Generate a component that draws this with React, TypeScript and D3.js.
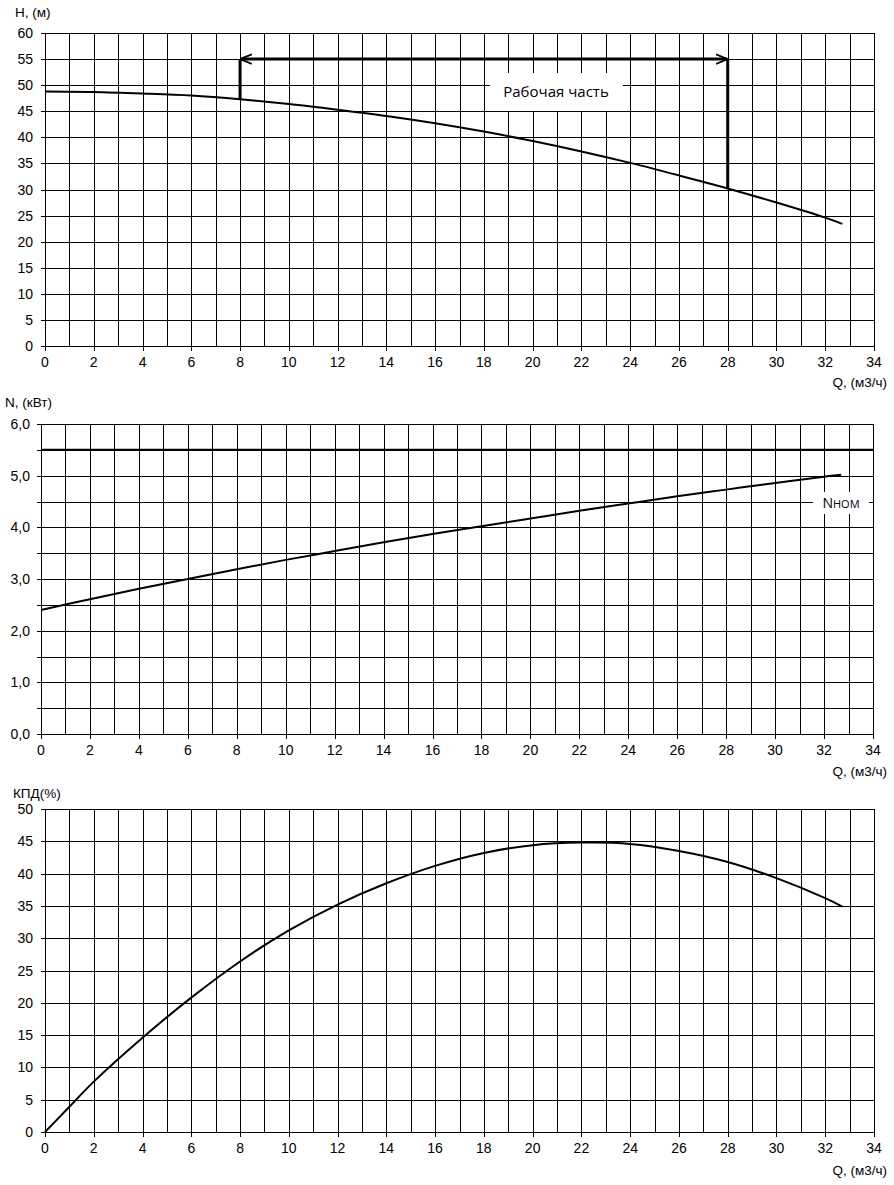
import { useEffect, useRef } from 'react';
import * as d3 from 'd3';

// расход Q, м3/ч
const flowQ = [0, 2, 4, 6, 8, 10, 12, 14, 16, 18, 20, 22, 24, 26, 28, 30, 32, 32.7];
// напор H, м
const headH = [48.8, 48.7, 48.4, 48.0, 47.3, 46.4, 45.3, 44.1, 42.7, 41.1, 39.3, 37.3, 35.1, 32.7, 30.2, 27.5, 24.6, 23.4];
// мощность N, кВт
const powerN = [2.4, 2.61, 2.81, 3.0, 3.19, 3.37, 3.54, 3.71, 3.87, 4.02, 4.17, 4.32, 4.46, 4.6, 4.73, 4.86, 4.98, 5.02];
// КПД, %
const effQ = [0, 1, 2, 4, 6, 8, 10, 12, 14, 16, 18, 20, 22, 24, 26, 28, 30, 32, 32.7];
const effK = [0, 3.9, 7.8, 14.6, 20.8, 26.4, 31.2, 35.2, 38.5, 41.2, 43.2, 44.4, 44.8, 44.6, 43.5, 41.8, 39.3, 36.2, 34.9];

const xTicks = d3.range(0, 35, 2);
const workRange = [8, 28];
const nNominal = 5.5;

export default function App() {
  const svgRef = useRef<SVGSVGElement>(null);

  useEffect(() => {
    document.body.style.margin = '0';
    const svg = d3.select(svgRef.current);
    svg.selectAll('*').remove();
    const font = 'Liberation Sans, Arial, sans-serif';

    const defs = svg.append('defs');
    defs.append('marker')
      .attr('id', 'arr')
      .attr('viewBox', '0 0 10 10')
      .attr('refX', 9).attr('refY', 5)
      .attr('markerWidth', 4).attr('markerHeight', 4)
      .attr('orient', 'auto-start-reverse')
      .append('path')
      .attr('d', 'M0,1 L10,5 L0,9')
      .attr('fill', 'none').attr('stroke', '#000').attr('stroke-width', 1.5);

    function panel(opts: {
      left: number; right: number; top: number; bottom: number;
      yMax: number; gridStep: number; labelStep: number; fmt: (v: number) => string;
      labelDx: number; yTitle: string; yTitleX: number; yTitleY: number; qTitleY: number;
    }) {
      const x = d3.scaleLinear().domain([0, 34]).range([opts.left, opts.right]);
      const y = d3.scaleLinear().domain([0, opts.yMax]).range([opts.bottom, opts.top]);
      const g = svg.append('g');

      // сетка
      g.selectAll('.vg').data(d3.range(0, 35, 1)).enter().append('line')
        .attr('x1', d => Math.round(x(d)) + 0.5).attr('x2', d => Math.round(x(d)) + 0.5)
        .attr('y1', opts.top).attr('y2', opts.bottom)
        .attr('stroke', '#000').attr('stroke-width', 1);
      const hVals = d3.range(0, opts.yMax + 1e-9, opts.gridStep);
      g.selectAll('.hg').data(hVals).enter().append('line')
        .attr('x1', opts.left - 4).attr('x2', opts.right)
        .attr('y1', d => Math.round(y(d)) + 0.5).attr('y2', d => Math.round(y(d)) + 0.5)
        .attr('stroke', '#000').attr('stroke-width', 1);
      // риски оси X
      g.selectAll('.xt').data(xTicks).enter().append('line')
        .attr('x1', d => Math.round(x(d)) + 0.5).attr('x2', d => Math.round(x(d)) + 0.5)
        .attr('y1', opts.bottom).attr('y2', opts.bottom + 5)
        .attr('stroke', '#000');

      g.selectAll('.xl').data(xTicks).enter().append('text')
        .attr('x', d => x(d)).attr('y', opts.bottom + 21)
        .attr('text-anchor', 'middle').attr('font-family', font).attr('font-size', 14)
        .text(d => String(d));
      const yLabels = d3.range(0, opts.yMax + 1e-9, opts.labelStep);
      g.selectAll('.yl').data(yLabels).enter().append('text')
        .attr('x', opts.left - opts.labelDx).attr('y', d => y(d)).attr('dy', '0.36em')
        .attr('text-anchor', 'end').attr('font-family', font).attr('font-size', 14)
        .text(d => opts.fmt(d));

      g.append('text').attr('x', opts.yTitleX).attr('y', opts.yTitleY)
        .attr('font-family', font).attr('font-size', 13.5).text(opts.yTitle);
      g.append('text').attr('x', 887).attr('y', opts.qTitleY).attr('text-anchor', 'end')
        .attr('font-family', font).attr('font-size', 13.5).text('Q, (м3/ч)');
      return { x, y, g };
    }

    const line = (x: d3.ScaleLinear<number, number>, y: d3.ScaleLinear<number, number>) =>
      d3.line<[number, number]>().x(d => x(d[0])).y(d => y(d[1])).curve(d3.curveCatmullRom);

    // --- H(Q)
    const p1 = panel({ left: 45, right: 874, top: 33, bottom: 346, yMax: 60, gridStep: 5, labelStep: 5,
      fmt: v => String(v), labelDx: 12, yTitle: 'H, (м)', yTitleX: 15, yTitleY: 17, qTitleY: 387 });
    p1.g.append('path')
      .datum(flowQ.map((q, i) => [q, headH[i]] as [number, number]))
      .attr('d', line(p1.x, p1.y)).attr('fill', 'none').attr('stroke', '#000').attr('stroke-width', 2);
    const hAt = d3.scaleLinear().domain(flowQ).range(headH);
    workRange.forEach(q => {
      p1.g.append('line')
        .attr('x1', p1.x(q)).attr('x2', p1.x(q))
        .attr('y1', p1.y(55)).attr('y2', p1.y(hAt(q)))
        .attr('stroke', '#000').attr('stroke-width', 3);
    });
    p1.g.append('line')
      .attr('x1', p1.x(workRange[0]) + 1).attr('x2', p1.x(workRange[1]) - 1)
      .attr('y1', p1.y(55)).attr('y2', p1.y(55))
      .attr('stroke', '#000').attr('stroke-width', 3)
      .attr('marker-start', 'url(#arr)').attr('marker-end', 'url(#arr)');
    p1.g.append('rect').attr('x', 490).attr('y', 73).attr('width', 133).attr('height', 38).attr('fill', '#fff');
    p1.g.append('text').attr('x', 556).attr('y', 97).attr('text-anchor', 'middle')
      .attr('font-family', 'Open Sans, sans-serif').attr('font-size', 15).text('Рабочая часть');

    // --- N(Q)
    const p2 = panel({ left: 41, right: 873, top: 424, bottom: 734, yMax: 6, gridStep: 0.5, labelStep: 1,
      fmt: v => v.toFixed(1).replace('.', ','), labelDx: 11, yTitle: 'N, (кВт)', yTitleX: 5, yTitleY: 407, qTitleY: 776 });
    p2.g.append('line')
      .attr('x1', p2.x(0)).attr('x2', p2.x(34))
      .attr('y1', p2.y(nNominal)).attr('y2', p2.y(nNominal))
      .attr('stroke', '#000').attr('stroke-width', 2);
    p2.g.append('path')
      .datum(flowQ.map((q, i) => [q, powerN[i]] as [number, number]))
      .attr('d', line(p2.x, p2.y)).attr('fill', 'none').attr('stroke', '#000').attr('stroke-width', 2);
    p2.g.append('rect').attr('x', 813).attr('y', 492).attr('width', 56).attr('height', 22).attr('fill', '#fff');
    const nt = p2.g.append('text').attr('x', 841).attr('y', 508).attr('text-anchor', 'middle')
      .attr('font-family', 'Open Sans, sans-serif').attr('font-size', 14);
    nt.append('tspan').text('N');
    nt.append('tspan').attr('font-size', 11).text('НОМ');

    // --- КПД(Q)
    const p3 = panel({ left: 45, right: 874, top: 809, bottom: 1132, yMax: 50, gridStep: 5, labelStep: 5,
      fmt: v => String(v), labelDx: 12, yTitle: 'КПД(%)', yTitleX: 13, yTitleY: 798, qTitleY: 1175 });
    p3.g.append('path')
      .datum(effQ.map((q, i) => [q, effK[i]] as [number, number]))
      .attr('d', line(p3.x, p3.y)).attr('fill', 'none').attr('stroke', '#000').attr('stroke-width', 2);
  }, []);

  return (
    <svg ref={svgRef} width={894} height={1185}
      style={{ display: 'block', background: '#fff' }}></svg>
  );
}
